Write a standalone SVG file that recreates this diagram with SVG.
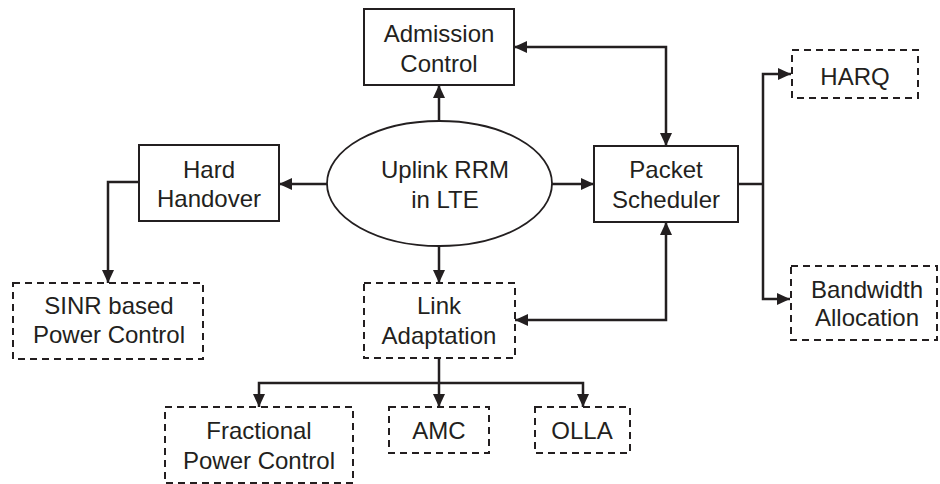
<svg xmlns="http://www.w3.org/2000/svg" width="940" height="484" viewBox="0 0 940 484">
<style>
.box{fill:#fff;stroke:#231f20;stroke-width:2}
.dash{fill:#fff;stroke:#231f20;stroke-width:2;stroke-dasharray:7 5}
.t{font-family:"Liberation Sans",Arial,sans-serif;font-size:24px;fill:#231f20;text-anchor:middle}
.c{fill:none;stroke:#231f20;stroke-width:2.5}
</style>
<defs>
<marker id="ah" viewBox="0 0 13 12" refX="13" refY="6" markerWidth="13" markerHeight="12" markerUnits="userSpaceOnUse" orient="auto-start-reverse">
<path d="M0,0 L13,6 L0,12 Z" fill="#231f20"/>
</marker>
</defs>
<rect width="940" height="484" fill="#fff"/>
<g id="connectors">
<line class="c" x1="439" y1="122" x2="439" y2="85" marker-end="url(#ah)"/>
<polyline class="c" points="514,47 666,47 666,146" marker-start="url(#ah)" marker-end="url(#ah)"/>
<line class="c" x1="327" y1="184" x2="279" y2="184" marker-end="url(#ah)"/>
<polyline class="c" points="139,182 108,182 108,283" marker-end="url(#ah)"/>
<line class="c" x1="552" y1="184" x2="594" y2="184" marker-end="url(#ah)"/>
<line class="c" x1="738" y1="184" x2="763" y2="184"/>
<polyline class="c" points="763,184 763,74 791,74" marker-end="url(#ah)"/>
<polyline class="c" points="763,184 763,299 790,299" marker-end="url(#ah)"/>
<polyline class="c" points="666,222 666,320 515,320" marker-start="url(#ah)" marker-end="url(#ah)"/>
<line class="c" x1="439" y1="246" x2="439" y2="283" marker-end="url(#ah)"/>
<line class="c" x1="439" y1="358" x2="439" y2="383"/>
<polyline class="c" points="259,407 259,383 583,383 583,407" marker-start="url(#ah)" marker-end="url(#ah)"/>
<line class="c" x1="439" y1="383" x2="439" y2="407" marker-end="url(#ah)"/>
</g>
<g id="rrm">
<ellipse cx="439.5" cy="183.5" rx="112.5" ry="62.5" fill="#fff" stroke="#231f20" stroke-width="1.8"/>
<text class="t" x="445" y="178">Uplink RRM</text>
<text class="t" x="445" y="208">in LTE</text>
</g>
<g id="admission">
<rect class="box" x="364" y="9" width="150" height="76"/>
<text class="t" x="439" y="42">Admission</text>
<text class="t" x="439" y="72">Control</text>
</g>
<g id="handover">
<rect class="box" x="139" y="145" width="140" height="76"/>
<text class="t" x="209" y="178">Hard</text>
<text class="t" x="209" y="207">Handover</text>
</g>
<g id="scheduler">
<rect class="box" x="594" y="146" width="144" height="76"/>
<text class="t" x="666" y="178">Packet</text>
<text class="t" x="666" y="208">Scheduler</text>
</g>
<g id="harq">
<rect class="dash" x="792" y="50" width="126" height="48"/>
<text class="t" x="855" y="85">HARQ</text>
</g>
<g id="bandwidth">
<rect class="dash" x="791" y="266" width="146" height="74"/>
<text class="t" x="867" y="298">Bandwidth</text>
<text class="t" x="867" y="326">Allocation</text>
</g>
<g id="sinr">
<rect class="dash" x="13" y="283" width="190" height="76"/>
<text class="t" x="109" y="314">SINR based</text>
<text class="t" x="109" y="343">Power Control</text>
</g>
<g id="linkadapt">
<rect class="dash" x="364" y="283" width="151" height="75"/>
<text class="t" x="439" y="314">Link</text>
<text class="t" x="439" y="344">Adaptation</text>
</g>
<g id="fractional">
<rect class="dash" x="165" y="407" width="188" height="76"/>
<text class="t" x="259" y="439">Fractional</text>
<text class="t" x="259" y="469">Power Control</text>
</g>
<g id="amc">
<rect class="dash" x="389" y="407" width="100" height="46"/>
<text class="t" x="439" y="439">AMC</text>
</g>
<g id="olla">
<rect class="dash" x="535" y="407" width="95" height="46"/>
<text class="t" x="582" y="439">OLLA</text>
</g>
</svg>
